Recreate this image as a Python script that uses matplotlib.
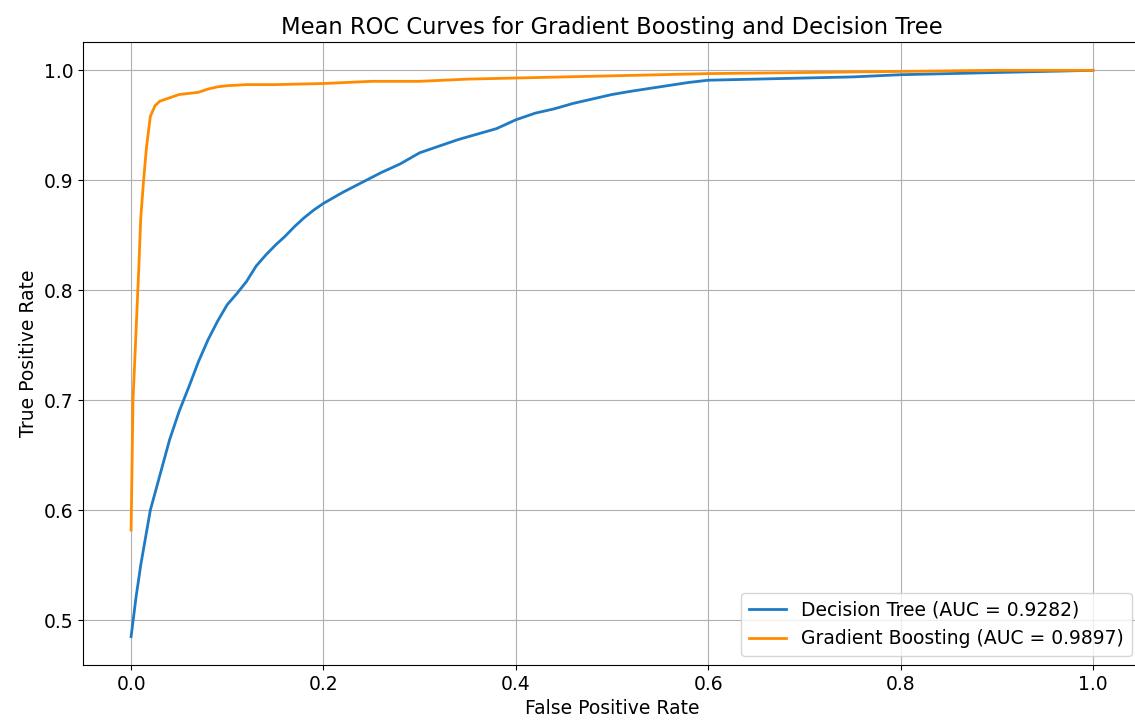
import matplotlib.pyplot as plt
import numpy as np

# mean ROC curves
dt_fpr = [0, 0.005, 0.01, 0.02, 0.03, 0.04, 0.05, 0.06, 0.07, 0.08, 0.09, 0.10,
          0.11, 0.12, 0.13, 0.14, 0.15, 0.16, 0.17, 0.18, 0.19, 0.20, 0.22, 0.24,
          0.26, 0.28, 0.30, 0.32, 0.34, 0.36, 0.38, 0.40, 0.42, 0.44, 0.46, 0.48,
          0.50, 0.52, 0.55, 0.58, 0.60, 0.65, 0.70, 0.75, 0.80, 0.85, 0.90, 0.95, 1.0]
dt_tpr = [0.485, 0.52, 0.55, 0.60, 0.632, 0.664, 0.69, 0.712, 0.735, 0.755, 0.772,
          0.787, 0.797, 0.808, 0.822, 0.832, 0.841, 0.849, 0.858, 0.866, 0.873,
          0.879, 0.889, 0.898, 0.907, 0.915, 0.925, 0.931, 0.937, 0.942, 0.947,
          0.955, 0.961, 0.965, 0.970, 0.974, 0.978, 0.981, 0.985, 0.989, 0.991,
          0.992, 0.993, 0.994, 0.996, 0.997, 0.998, 0.999, 1.0]

gb_fpr = [0, 0.002, 0.005, 0.008, 0.01, 0.013, 0.016, 0.02, 0.025, 0.03, 0.04,
          0.05, 0.06, 0.07, 0.08, 0.09, 0.10, 0.12, 0.15, 0.2, 0.25, 0.3, 0.35,
          0.4, 0.5, 0.6, 0.7, 0.8, 0.9, 1.0]
gb_tpr = [0.582, 0.70, 0.76, 0.82, 0.865, 0.90, 0.93, 0.958, 0.968, 0.972, 0.975,
          0.978, 0.979, 0.980, 0.983, 0.985, 0.986, 0.987, 0.987, 0.988, 0.990,
          0.990, 0.992, 0.993, 0.995, 0.997, 0.998, 0.999, 1.0, 1.0]

dt_auc = 0.9282
gb_auc = 0.9897

fig = plt.figure(figsize=(11.35, 7.24), dpi=100)
# axes runs a little past the right edge, as in the (cropped) reference
ax = fig.add_axes([83 / 1135, 59 / 724, 1058 / 1135, 623 / 724])

ax.plot(dt_fpr, dt_tpr, color='#1f7bc4', lw=2,
        label='Decision Tree (AUC = {:.4f})'.format(dt_auc))
ax.plot(gb_fpr, gb_tpr, color='darkorange', lw=2,
        label='Gradient Boosting (AUC = {:.4f})'.format(gb_auc))

ax.set_xticks(np.arange(0, 1.01, 0.2))
ax.set_yticks(np.arange(0.5, 1.01, 0.1))
ax.set_xlabel('False Positive Rate', fontsize=13.5)
ax.set_ylabel('True Positive Rate', fontsize=13.5)
ax.set_title('Mean ROC Curves for Gradient Boosting and Decision Tree', fontsize=16.3)
ax.tick_params(labelsize=13.5)
ax.grid(True)
ax.legend(loc='lower right', fontsize=13.5)

fig.savefig('out.png', dpi=100)
